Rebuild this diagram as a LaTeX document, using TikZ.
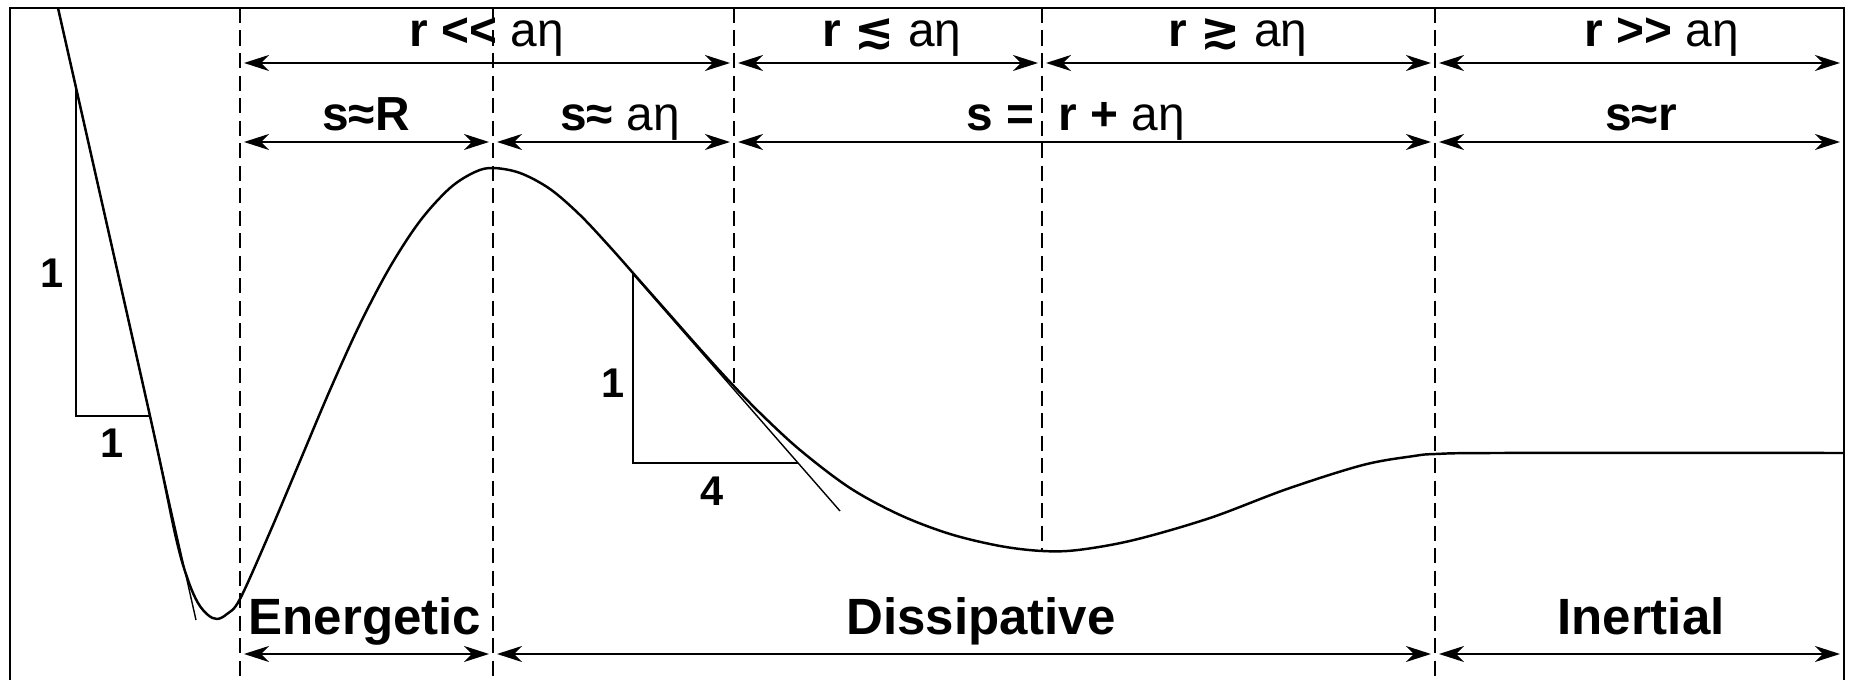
\documentclass[tikz,border=0pt]{standalone}
\usepackage{fontspec}
\setmainfont{Liberation Sans}
\newfontfamily\symfont{DejaVu Sans}
\usetikzlibrary{arrows.meta}
\begin{document}
\begin{tikzpicture}[x=0.01cm,y=-0.01cm,
  frameline/.style={line width=0.6pt},
  divider/.style={line width=0.55pt, dash pattern=on 4.3pt off 2.1pt},
  curveline/.style={line width=0.7pt, line join=round},
  legline/.style={line width=0.5pt},
  tangline/.style={line width=0.4pt},
  dim/.style={line width=0.6pt, shorten <=0.04cm, shorten >=0.04cm,
    {Stealth[length=0.25cm,width=0.16cm,inset=0.08cm]}-{Stealth[length=0.25cm,width=0.16cm,inset=0.08cm]}},
  lab/.style={anchor=base, inner sep=0pt, font=\fontsize{13.6}{16}\selectfont\bfseries},
  biglab/.style={anchor=base, inner sep=0pt, font=\fontsize{14.5}{17}\selectfont\bfseries},
  numlab/.style={anchor=center, inner sep=0pt, font=\fontsize{11.8}{13}\selectfont\bfseries}
]
\useasboundingbox[fill=white] (0,0) rectangle (1851,680);

% vertical reference coordinates
\coordinate (v0) at (10,8);
\coordinate (v1) at (240,8);
\coordinate (v2) at (493,8);
\coordinate (v3) at (734,8);
\coordinate (v4) at (1042,8);
\coordinate (v5) at (1435,8);
\coordinate (v6) at (1844,8);
\coordinate (r1) at (0,63);
\coordinate (r2) at (0,142);
\coordinate (r3) at (0,654);
\coordinate (bot) at (0,680);

% frame
\draw[frameline] (v0 |- bot) -- (v0) -- (v6) -- (v6 |- bot);

% dashed dividers
\coordinate (e3) at (734,390);
\coordinate (e4) at (1042,551);
\draw[divider] (v1) -- (v1 |- bot);
\draw[divider] (v2) -- (v2 |- bot);
\draw[divider] (v3) -- (e3);
\draw[divider] (v4) -- (e4);
\draw[divider] (v5) -- (v5 |- bot);

% curve
\draw[curveline] plot[smooth, tension=0.55] coordinates {
 (58,8) (150,416) (176,538) (188,580) (198,603) (208,615) (217,619) (227,614) (240,599)
 (270,532) (300,461) (330,390) (360,324) (390,267) (420,221) (450,188) (475,172) (493,168)
 (520,173) (550,189) (580,215) (610,247) (640,281) (670,315) (700,349) (730,382) (760,413)
 (800,450) (850,488) (900,515) (950,534) (1000,546) (1042,551) (1078,550) (1134,540)
 (1210,518) (1287,489) (1363,465) (1414,456) (1436,454) (1500,453) (1844,453)};

% left slope triangle
\coordinate (t1a) at (58,8);
\coordinate (t1b) at (196,620);
\draw[tangline] (t1a) -- (t1b);
\coordinate (l1top) at (76,88);
\coordinate (l1c) at (76,416);
\coordinate (l1r) at (150,416);
\draw[legline] (l1top) -- (l1c) -- (l1r);
\node[numlab] (n1v) at (52,273) {1};
\node[numlab] (n1h) at (112,443) {1};

% right slope triangle
\coordinate (t2a) at (633,274);
\coordinate (t2b) at (840,511);
\draw[tangline] (t2a) -- (t2b);
\coordinate (l2c) at (633,463);
\coordinate (l2r) at (798,463);
\draw[legline] (t2a) -- (l2c) -- (l2r);
\node[numlab] (n2v) at (613,383) {1};
\node[numlab] (n2h) at (712,491) {4};

% row 1
\draw[dim] (v1 |- r1) -- (v3 |- r1);
\draw[dim] (v3 |- r1) -- (v4 |- r1);
\draw[dim] (v4 |- r1) -- (v5 |- r1);
\draw[dim] (v5 |- r1) -- (v6 |- r1);
\node[lab] (ra) at (487,47) {r <{}< {\mdseries aη}};
\node[lab] (rb) at (892,47) {r {\symfont ≲} {\mdseries aη}};
\node[lab] (rc) at (1238,47) {r {\symfont ≳} {\mdseries aη}};
\node[lab] (rd) at (1662,47) {r >{}> {\mdseries aη}};

% row 2
\draw[dim] (v1 |- r2) -- (v2 |- r2);
\draw[dim] (v2 |- r2) -- (v3 |- r2);
\draw[dim] (v3 |- r2) -- (v5 |- r2);
\draw[dim] (v5 |- r2) -- (v6 |- r2);
\node[lab] (sa) at (366,131) {s≈R};
\node[lab] (sb) at (620,131) {s≈ {\mdseries aη}};
\node[lab, anchor=base east] (sc) at (1035,131) {s =};
\node[lab, anchor=base west] (sc2) at (1058,131) {r + {\mdseries aη}};
\node[lab] (sd) at (1641,131) {s≈r};

% row 3
\draw[dim] (v1 |- r3) -- (v2 |- r3);
\draw[dim] (v2 |- r3) -- (v5 |- r3);
\draw[dim] (v5 |- r3) -- (v6 |- r3);
\node[biglab] (ga) at (365,635) {Energetic};
\node[biglab] (gb) at (981,635) {Dissipative};
\node[biglab] (gc) at (1641,635) {Inertial};
\end{tikzpicture}
\end{document}
